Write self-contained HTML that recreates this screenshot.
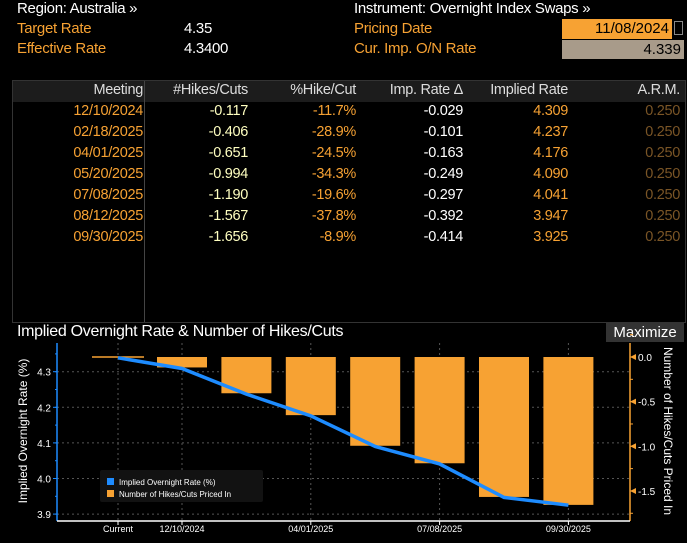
<!DOCTYPE html>
<html><head><meta charset="utf-8">
<style>
body{margin:0;background:#000;width:687px;height:543px;overflow:hidden;font-family:"Liberation Sans",sans-serif;position:relative}
.t{position:absolute;white-space:nowrap;font-size:15px;letter-spacing:-0.3px}
.w{color:#fff}.o{color:#f7a233}
#tbl{position:absolute;left:12px;top:80px;width:672px;height:241px;border:1px solid #333}
#hdr{position:absolute;left:0;top:0;width:672px;height:21px;background:#1c1c1c}
.c{position:absolute;text-align:right;font-size:14.5px;letter-spacing:-0.3px;white-space:nowrap}
</style></head><body>
<div class="t w" style="left:17px;top:0px">Region: Australia »</div>
<div class="t o" style="left:17px;top:20px">Target Rate</div>
<div class="t w" style="left:184px;top:20px">4.35</div>
<div class="t o" style="left:17px;top:40px">Effective Rate</div>
<div class="t w" style="left:184px;top:40px">4.3400</div>
<div class="t w" style="left:354px;top:0px">Instrument: Overnight Index Swaps »</div>
<div class="t o" style="left:354px;top:20px">Pricing Date</div>
<div class="t o" style="left:354px;top:40px">Cur. Imp. O/N Rate</div>
<div style="position:absolute;left:562px;top:19px;width:110px;height:20px;background:#f7a233;color:#000;font-size:15px;text-align:right;box-sizing:border-box;padding-right:3px;line-height:20px">11/08/2024</div>
<div style="position:absolute;left:674px;top:21px;width:9px;height:14px;border:1px solid #888;box-sizing:border-box"></div>
<div style="position:absolute;left:562px;top:40px;width:122px;height:19px;background:#a89b8a;color:#000;font-size:15px;text-align:right;box-sizing:border-box;padding-right:3px;line-height:19px">4.339</div>

<div id="tbl">
<div id="hdr"></div>
<div style="position:absolute;left:131px;top:0;width:1px;height:241px;background:#444"></div>
</div>
<div id="rows"></div>

<div class="t w" style="left:17px;top:323px;font-size:16px">Implied Overnight Rate &amp; Number of Hikes/Cuts</div>
<div style="position:absolute;left:606px;top:323px;width:78px;height:19px;background:#333;color:#fff;font-size:15px;text-align:center;line-height:19px">Maximize</div>

<svg id="ch" width="687" height="543" style="position:absolute;left:0;top:0"></svg>

<script>
const meetings=["12/10/2024","02/18/2025","04/01/2025","05/20/2025","07/08/2025","08/12/2025","09/30/2025"];
const hikes=[-0.117,-0.406,-0.651,-0.994,-1.190,-1.567,-1.656];
const pctHike=["-11.7%","-28.9%","-24.5%","-34.3%","-19.6%","-37.8%","-8.9%"];
const impDelta=[-0.029,-0.101,-0.163,-0.249,-0.297,-0.392,-0.414];
const implied=[4.309,4.237,4.176,4.090,4.041,3.947,3.925];
const arm=[0.250,0.250,0.250,0.250,0.250,0.250,0.250];
const currentRate=4.339;
const leftTicks=[4.3,4.2,4.1,4.0,3.9];
const rightTicks=[0.0,-0.5,-1.0,-1.5];
const xLabels=["Current","12/10/2024","04/01/2025","07/08/2025","09/30/2025"];
const xLabelIdx=[0,1,3,5,7];

// table
const heads=["Meeting","#Hikes/Cuts","%Hike/Cut","Imp. Rate Δ","Implied Rate","A.R.M."];
const colR=[143,248,356,463,568,680];
const rowsEl=document.getElementById('rows');
function cell(txt,right,top,color,name){
  const d=document.createElement('div');d.className='c';
  d.style.right=(687-right)+'px';d.style.top=top+'px';d.style.color=color;d.textContent=txt;
  
  
  rowsEl.appendChild(d);
}
heads.forEach((h,i)=>cell(h,colR[i],82,'#ddd','column-header'));
meetings.forEach((m,i)=>{
  const y=103+i*21;
  cell(m,colR[0],y,'#f7a233','meeting-date');
  cell(hikes[i].toFixed(3),colR[1],y,'#ffffc0','hikes-cuts-value');
  cell(pctHike[i],colR[2],y,'#f7a233','pct-hike-value');
  cell(impDelta[i].toFixed(3),colR[3],y,'#fff','imp-rate-delta-value');
  cell(implied[i].toFixed(3),colR[4],y,'#f7a233','implied-rate-value');
  cell(arm[i].toFixed(3),colR[5],y,'#7a5526','arm-value');
});

// chart
const svg=document.getElementById('ch');const NS='http://www.w3.org/2000/svg';
function el(tag,attrs,name){const e=document.createElementNS(NS,tag);for(const k in attrs)e.setAttribute(k,attrs[k]);
  
  
  svg.appendChild(e);return e;}
const yL=v=>371.7+(4.3-v)*356;
const yR=n=>357-n*89.3;
const xI=i=>118+(i===0?0:64+(i-1)*64.4);
const L=57,R=630,B=520,T=343;
// gridlines
leftTicks.forEach(v=>el('line',{x1:L,x2:R,y1:yL(v),y2:yL(v),stroke:'#555','stroke-dasharray':'2,3'},'h-gridline'));
xLabelIdx.forEach(i=>el('line',{x1:xI(i),x2:xI(i),y1:T,y2:B,stroke:'#555','stroke-dasharray':'2,3'},'v-gridline'));
// bars
el('line',{x1:xI(0)-26,x2:xI(0)+26,y1:yR(0),y2:yR(0),stroke:'#f7a233','stroke-width':1.5},'bar-current');
hikes.forEach((h,i)=>{const x=xI(i+1);el('rect',{x:x-25,y:yR(0),width:50,height:yR(h)-yR(0),fill:'#f7a233'},'bar-'+meetings[i]);});
// line
const pts=[[xI(0),yL(currentRate)]].concat(implied.map((v,i)=>[xI(i+1),yL(v)]));
el('polyline',{points:pts.map(p=>p.join(',')).join(' '),fill:'none',stroke:'#1e8cff','stroke-width':3.5},'implied-rate-line');
// axes
el('line',{x1:L,x2:L,y1:T,y2:B+1,stroke:'#1e8cff','stroke-width':1.5},'left-axis');
el('line',{x1:R,x2:R,y1:T,y2:B+1,stroke:'#f7a233','stroke-width':1.5},'right-axis');
el('line',{x1:L,x2:R,y1:B+1,y2:B+1,stroke:'#fff','stroke-width':1.5},'x-axis');
leftTicks.forEach(v=>{el('line',{x1:L-4,x2:L,y1:yL(v),y2:yL(v),stroke:'#1e8cff'},'left-tick');
  const t=el('text',{x:L-6,y:yL(v)+4,fill:'#fff','font-size':10,'text-anchor':'end','font-family':'Liberation Sans'},'left-tick-label');t.textContent=v.toFixed(1);});
for(let v=4.35;v>3.86;v-=0.05){el('line',{x1:L-2,x2:L,y1:yL(v),y2:yL(v),stroke:'#1e8cff'},'left-minor-tick');}
for(let v=0.25;v>-1.8;v-=0.25){el('line',{x1:R,x2:R+3,y1:yR(v),y2:yR(v),stroke:'#f7a233'},'right-minor-tick');}
rightTicks.forEach(v=>{el('polygon',{points:`${R},${yR(v)} ${R+6},${yR(v)-3} ${R+6},${yR(v)+3}`,fill:'#f7a233'},'right-tick');
  const t=el('text',{x:R+8,y:yR(v)+4,fill:'#fff','font-size':10,'font-family':'Liberation Sans'},'right-tick-label');t.textContent=v.toFixed(1);});
xLabels.forEach((s,k)=>{const x=xI(xLabelIdx[k]);
  el('line',{x1:x,x2:x,y1:B+1,y2:B+5,stroke:'#fff'},'x-tick');
  const t=el('text',{x:x,y:B+12,fill:'#fff','font-size':9,'text-anchor':'middle','font-family':'Liberation Sans'},'x-tick-label');t.textContent=s;});
let t=el('text',{x:0,y:0,fill:'#fff','font-size':12,'text-anchor':'middle','font-family':'Liberation Sans',transform:'translate(27,431) rotate(-90)'},'left-axis-title');t.textContent='Implied Overnight Rate (%)';
t=el('text',{x:0,y:0,fill:'#fff','font-size':12,'text-anchor':'middle','font-family':'Liberation Sans',transform:'translate(664,431) rotate(90)'},'right-axis-title');t.textContent='Number of Hikes/Cuts Priced In';
// legend
el('rect',{x:100,y:470,width:163,height:32,fill:'#121212',rx:2},'legend');
el('rect',{x:107,y:478,width:7,height:7,fill:'#1e8cff'},'legend-swatch-rate');
el('rect',{x:107,y:490,width:7,height:7,fill:'#f7a233'},'legend-swatch-hikes');
t=el('text',{x:119,y:485,fill:'#fff','font-size':8,'font-family':'Liberation Sans'},'legend-entry-rate');t.textContent='Implied Overnight Rate (%)';
t=el('text',{x:119,y:497,fill:'#fff','font-size':8,'font-family':'Liberation Sans'},'legend-entry-hikes');t.textContent='Number of Hikes/Cuts Priced In';
</script>
</body></html>
